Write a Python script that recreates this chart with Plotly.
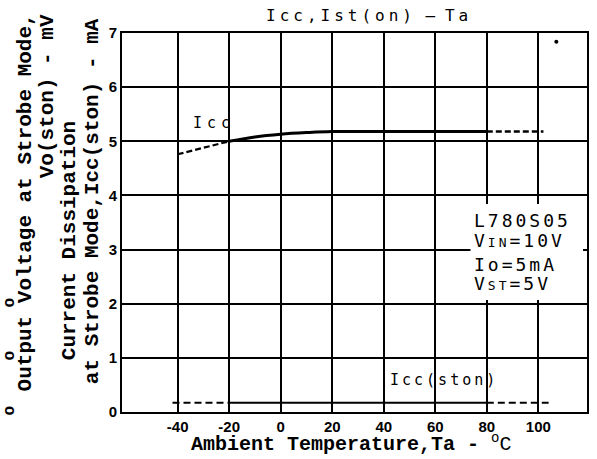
import plotly.graph_objects as go

# ---- data ----
ta_icc_lo = [-40, -30, -20]
icc_lo = [4.76, 4.88, 5.0]
ta_icc_mid = [-20, -10, 0, 10, 20, 40, 60, 80]
icc_mid = [5.0, 5.08, 5.13, 5.16, 5.18, 5.18, 5.18, 5.18]
ta_icc_hi = [80, 90, 102]
icc_hi = [5.18, 5.18, 5.18]

ta_st_lo = [-42, -20]
icc_st_lo = [0.17, 0.17]
ta_st_mid = [-20, 0, 20, 40, 60, 80]
icc_st_mid = [0.17, 0.17, 0.17, 0.17, 0.17, 0.17]
ta_st_hi = [80, 104]
icc_st_hi = [0.17, 0.17]

speck_x = [107]
speck_y = [6.84]

x_ticks = [-40, -20, 0, 20, 40, 60, 80, 100]
x_tick_labels = ["-40", "-20", "0", "20", "40", "60", "80", "100"]
y_ticks = [0, 1, 2, 3, 4, 5, 6, 7]
y_tick_labels = ["0", "1", "2", "3", "4", "5", "6", "7"]

spec_lines = [
    "L780S05",
    "V<span style='font-size:13px'>IN</span>=10V",
    "Io=5mA",
    "V<span style='font-size:13px'>ST</span>=5V",
]

# ---- figure ----
L, R, T, B = 122, 589, 33, 412
W, H = 597, 459


def px(x):
    return (x - L) / (R - L)


def py(y):
    return (B - y) / (B - T)


fig = go.Figure()
blk = "black"
fig.add_trace(go.Scatter(x=ta_icc_lo, y=icc_lo, mode="lines",
                         line=dict(color=blk, width=2.2, dash="6px,3px")))
fig.add_trace(go.Scatter(x=ta_icc_mid, y=icc_mid, mode="lines",
                         line=dict(color=blk, width=3, shape="spline")))
fig.add_trace(go.Scatter(x=ta_icc_hi, y=icc_hi, mode="lines",
                         line=dict(color=blk, width=2.4, dash="6px,3px")))
fig.add_trace(go.Scatter(x=ta_st_lo, y=icc_st_lo, mode="lines",
                         line=dict(color=blk, width=2, dash="7px,4px")))
fig.add_trace(go.Scatter(x=ta_st_mid, y=icc_st_mid, mode="lines",
                         line=dict(color=blk, width=2)))
fig.add_trace(go.Scatter(x=ta_st_hi, y=icc_st_hi, mode="lines",
                         line=dict(color=blk, width=2, dash="7px,4px")))
fig.add_trace(go.Scatter(x=speck_x, y=speck_y, mode="markers",
                         marker=dict(color=blk, size=4)))

# white backing for the spec text
fig.add_shape(type="rect", xref="paper", yref="paper",
              x0=px(472), x1=px(585), y0=py(300), y1=py(204),
              fillcolor="white", line=dict(width=0), layer="above")

mono = "Liberation Mono"
plot_font = "DejaVu Sans Mono"
ann = []

# title
ann.append(dict(text="<span style='letter-spacing:4px'>Icc,Ist(on)</span> — <span style='letter-spacing:4px'>Ta</span>",
                x=px(370), y=py(15), font=dict(family=plot_font, size=16, color=blk)))
# x axis title
ann.append(dict(text="<b>Ambient Temperature,Ta - </b><sup>o</sup>C",
                x=px(352), y=py(443), font=dict(family=mono, size=20, color=blk)))
# y axis titles
ann.append(dict(text="<b>Output Voltage at Strobe Mode,</b>", textangle=-90,
                x=px(26), y=py(202), font=dict(family=mono, size=21, color=blk)))
ann.append(dict(text="<b>Vo(ston) - mV</b>", textangle=-90,
                x=px(47), y=py(96), font=dict(family=mono, size=21, color=blk)))
ann.append(dict(text="<b>Current Dissipation</b>", textangle=-90,
                x=px(69), y=py(241), font=dict(family=mono, size=21, color=blk)))
ann.append(dict(text="<b>at Strobe Mode,Icc(ston) - mA</b>", textangle=-90,
                x=px(92), y=py(201), font=dict(family=mono, size=21, color=blk)))
# stray fragments at left edge
for yy in (302, 355, 410):
    ann.append(dict(text="<b>o</b>", textangle=-90, x=px(10), y=py(yy),
                    borderpad=0, font=dict(family=mono, size=16, color=blk)))
# curve labels
ann.append(dict(text="<span style='letter-spacing:5px'>Icc</span>",
                x=px(214), y=py(123), font=dict(family=plot_font, size=15, color=blk)))
ann.append(dict(text="<span style='letter-spacing:3px'>Icc(ston)</span>",
                x=px(445), y=py(380), font=dict(family=plot_font, size=15, color=blk)))
# spec text
for s, yy in zip(spec_lines, [220, 240, 264, 283]):
    ann.append(dict(text="<span style='letter-spacing:3px'>" + s + "</span>",
                    x=px(474), y=py(yy), xanchor="left",
                    font=dict(family=plot_font, size=18, color=blk)))

for a in ann:
    a.setdefault("xanchor", "center")
    a.update(xref="paper", yref="paper", yanchor="middle", showarrow=False)
fig.update_layout(annotations=ann)

fig.update_layout(
    width=W, height=H,
    margin=dict(l=L, r=W - R, t=T, b=H - B),
    paper_bgcolor="white", plot_bgcolor="white",
    showlegend=False,
    xaxis=dict(range=[-61.6, 118.9], tickmode="array", tickvals=x_ticks,
               ticktext=x_tick_labels, showgrid=True, gridcolor=blk, gridwidth=2,
               zeroline=False, showline=True, linecolor=blk, linewidth=2, mirror=True,
               ticks="", tickfont=dict(family="Liberation Sans", size=15, color=blk, weight="bold")),
    yaxis=dict(range=[0, 7], tickmode="array", tickvals=y_ticks,
               ticktext=y_tick_labels, showgrid=True, gridcolor=blk, gridwidth=2,
               zeroline=False, showline=True, linecolor=blk, linewidth=2, mirror=True,
               ticks="", tickfont=dict(family="Liberation Sans", size=15, color=blk, weight="bold")),
)

fig.write_html("out.html", config={"displayModeBar": False},
               post_script="document.body.style.margin='0';document.body.style.overflow='hidden';")
